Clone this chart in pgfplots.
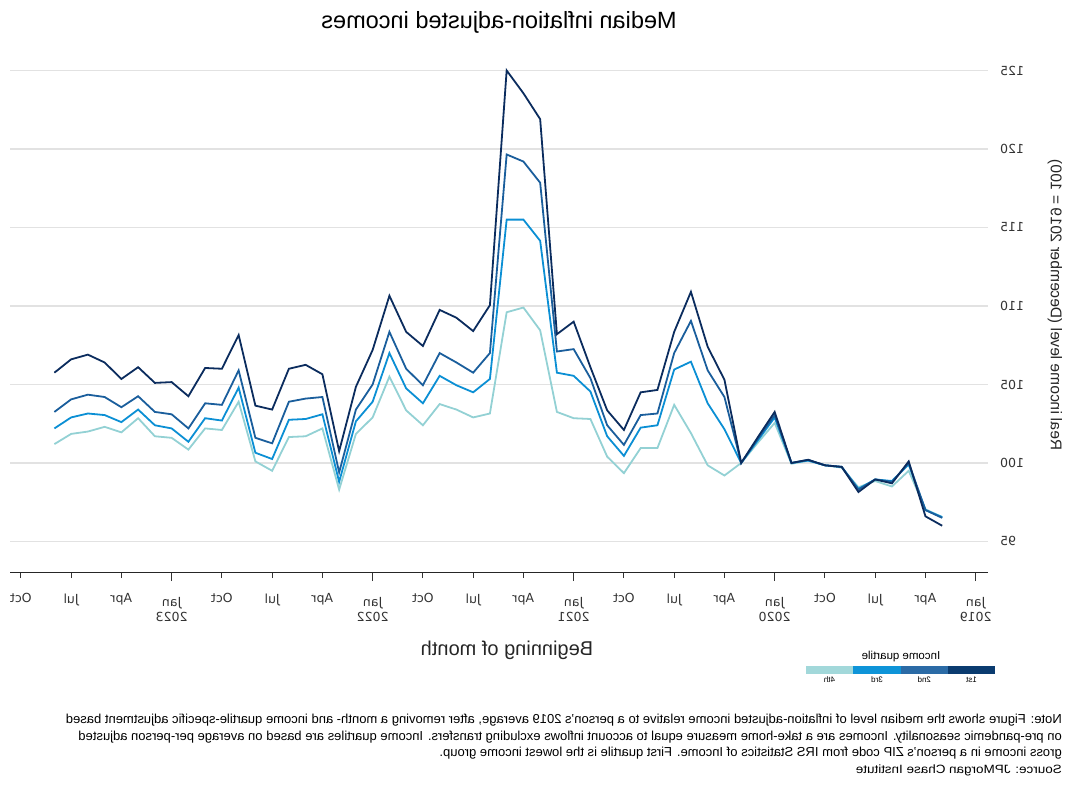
\documentclass[border=0pt]{standalone}
\usepackage{pgfplots}
\pgfplotsset{compat=1.18}
\usepackage{pgfplotstable}
\usepackage{graphicx}
\usepackage{fontspec}
\setmainfont{Liberation Sans}
\newfontfamily\dejavu{DejaVu Sans}
\definecolor{qone}{HTML}{0B2C5E}
\definecolor{qtwo}{HTML}{1A5E9C}
\definecolor{qthree}{HTML}{0B8FD4}
\definecolor{qfour}{HTML}{93D1D4}
\definecolor{lone}{HTML}{0A3B6F}
\definecolor{ltwo}{HTML}{2B6BA6}
\definecolor{lthree}{HTML}{0E94D8}
\definecolor{lfour}{HTML}{A2D8DA}
\definecolor{gridgray}{HTML}{E2E2E2}
\pgfplotstableread{
m q1 q2 q3 q4
2 96.00 96.50 96.55 96.55
3 96.60 97.00 97.00 97.05
4 100.10 100.00 99.90 99.50
5 98.70 98.80 98.85 98.50
6 98.95 98.95 98.95 98.85
7 98.15 98.30 98.35 98.45
8 99.75 99.75 99.75 99.70
9 99.85 99.85 99.85 99.85
10 100.20 100.20 100.15 100.15
11 100.00 100.00 100.00 99.95
12 103.25 103.05 102.90 102.55
13 101.65 101.55 101.45 101.30
14 100.00 100.00 100.00 100.00
15 105.30 104.20 102.15 99.20
16 107.40 105.90 103.80 99.85
17 110.90 109.05 106.45 101.90
18 108.35 107.00 105.95 103.70
19 104.65 103.15 102.40 100.95
20 104.50 103.05 102.25 100.95
21 102.10 101.15 100.45 99.35
22 103.35 102.40 101.70 100.40
23 106.10 105.40 104.55 102.80
24 109.00 107.25 105.55 102.85
25 108.20 107.10 105.75 103.25
26 121.90 117.85 114.15 108.45
27 123.55 119.20 115.50 109.90
28 125.00 119.65 115.50 109.60
29 110.05 107.00 105.35 103.15
30 108.40 105.75 104.50 102.90
31 109.25 106.40 104.95 103.40
32 109.75 107.00 105.55 103.75
33 107.45 104.95 103.80 102.40
34 108.35 106.00 104.75 103.35
35 110.65 108.35 107.00 105.50
36 107.20 105.00 103.90 102.90
37 104.85 103.40 102.65 101.85
38 100.75 99.40 98.80 98.30
39 105.65 104.20 103.10 102.20
40 106.25 104.10 102.80 101.70
41 106.00 103.90 102.75 101.65
42 103.40 101.25 100.25 99.50
43 103.65 101.60 100.65 100.10
44 108.15 105.90 104.80 103.90
45 106.00 103.70 102.70 102.10
46 106.05 103.80 102.85 102.20
47 104.25 102.20 101.35 100.85
48 105.15 103.10 102.20 101.60
49 105.10 103.25 102.40 101.70
50 106.10 104.25 103.40 102.85
51 105.35 103.55 102.60 101.95
52 106.40 104.20 103.05 102.30
53 106.90 104.35 103.15 102.00
54 106.60 104.05 102.90 101.85
55 105.75 103.25 102.20 101.20
}\incomedata
\begin{document}
\reflectbox{%
\begin{tikzpicture}[x=1pt,y=1pt]
\useasboundingbox (0,0) rectangle (1070,784);
\begin{axis}[
  at={(82pt,211pt)}, anchor=south west,
  scale only axis, width=978pt, height=510.35pt,
  xmin=-0.734, xmax=57.65, ymin=92.99, ymax=125.5,
  axis x line*=bottom, axis y line*=left,
  y axis line style={draw=none},
  x axis line style={line width=1pt, color=black!85},
  ytick={95,100,105,110,115,120,125},
  ytick style={draw=none},
  ymajorgrids, grid style={gridgray, line width=1.3pt},
  tick align=outside,
  xtick={3,6,9,15,18,21,27,30,33,39,42,45,51,54,57},
  xticklabels={Apr,Jul,Oct,Apr,Jul,Oct,Apr,Jul,Oct,Apr,Jul,Oct,Apr,Jul,Oct},
  extra x ticks={0,12,24,36,48},
  extra x tick labels={Jan\\2019,Jan\\2020,Jan\\2021,Jan\\2022,Jan\\2023},
  extra x tick style={major tick length=8pt, xticklabel style={yshift=-1pt}},
  major tick length=5pt,
  xtick style={line width=1pt, color=black!80},
  xticklabel style={align=center, font=\dejavu\fontsize{12.5}{15}\selectfont, text=black!80, yshift=-12pt},
  yticklabel style={font=\dejavu\fontsize{12.5}{15}\selectfont, text=black!80, anchor=east, inner sep=0pt, xshift=-7pt},
  /pgf/number format/assume math mode=true,
  clip=false,
]
\addplot[qfour, line width=1.8pt] table[x=m, y=q4] {\incomedata};
\addplot[qthree, line width=1.8pt] table[x=m, y=q3] {\incomedata};
\addplot[qtwo, line width=1.8pt] table[x=m, y=q2] {\incomedata};
\addplot[qone, line width=1.8pt] table[x=m, y=q1] {\incomedata};
\end{axis}
% title and labels
\node[font=\fontsize{23.5}{28}\selectfont] at (571,762) {Median inflation-adjusted incomes};
\node[font=\fontsize{20}{24}\selectfont, text=black!85] at (563,134) {Beginning of month};
\node[font=\fontsize{15.5}{18}\selectfont, rotate=90, text=black!85] at (15,479) {Real income level (December 2019 = 100)};
% legend
\node[font=\fontsize{11.5}{14}\selectfont] at (169,127) {Income quartile};
\fill[lone] (75,110) rectangle (122,118);
\fill[ltwo] (122,110) rectangle (169.3,118);
\fill[lthree] (169.3,110) rectangle (217,118);
\fill[lfour] (217,110) rectangle (264,118);
\node[font=\fontsize{8}{9}\selectfont] at (98.5,104) {1st};
\node[font=\fontsize{8}{9}\selectfont] at (145.7,104) {2nd};
\node[font=\fontsize{8}{9}\selectfont] at (193,104) {3rd};
\node[font=\fontsize{8}{9}\selectfont] at (240.5,104) {4th};
% notes
\node[anchor=north west, align=left, inner sep=0pt, font=\fontsize{13}{16.5}\selectfont] at (8,70) {Note: Figure shows the median level of inflation-adjusted income relative to a person's 2019 average, after removing a month- and income quartile-specific adjustment based\\on pre-pandemic seasonality. Incomes are a take-home measure equal to account inflows excluding transfers. Income quartiles are based on average per-person adjusted\\gross income in a person's ZIP code from IRS Statistics of Income. First quartile is the lowest income group.};
\node[anchor=west, inner sep=0pt, font=\fontsize{12}{14}\selectfont] at (8,14) {\scalebox{1.12}[1]{Source: JPMorgan Chase Institute}};
\end{tikzpicture}%
}
\end{document}
